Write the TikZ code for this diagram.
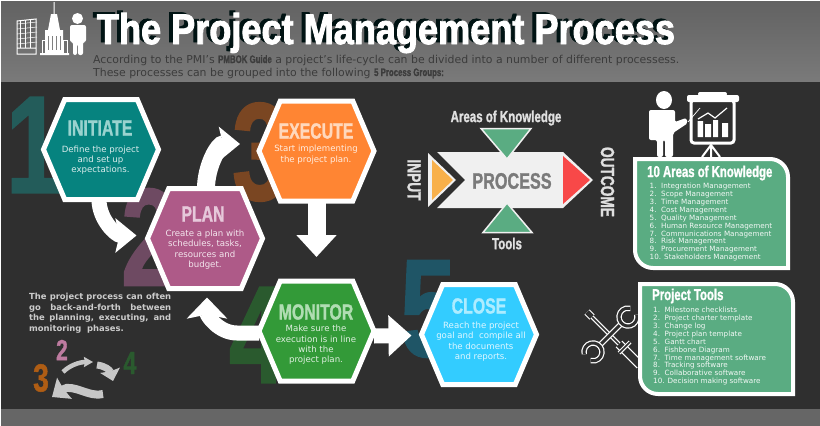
\documentclass[tikz,border=0pt]{standalone}
\usepackage{fontspec}
\usepackage{xcolor}
\setmainfont{DejaVu Sans}
\newfontfamily\impactfont[FakeStretch=0.72,FakeBold=1.2]{Liberation Sans}
\newfontfamily\titlefont[FakeStretch=0.84,FakeBold=2]{Liberation Sans}
\usetikzlibrary{arrows.meta,shapes.symbols}
\definecolor{boardbg}{HTML}{2F2F2F}
\definecolor{bandlo}{HTML}{7A7A7A}
\definecolor{bandhi}{HTML}{626262}
\definecolor{footbg}{HTML}{666666}
\definecolor{introcol}{HTML}{3C3C3C}
\definecolor{initcol}{HTML}{06837F}
\definecolor{initlite}{HTML}{9AD3CF}
\definecolor{execcol}{HTML}{FF8533}
\definecolor{execlite}{HTML}{FFD8BC}
\definecolor{plancol}{HTML}{AE5A88}
\definecolor{planlite}{HTML}{E6C8DA}
\definecolor{moncol}{HTML}{339A38}
\definecolor{monlite}{HTML}{B0DDB2}
\definecolor{closecol}{HTML}{33CCFF}
\definecolor{closelite}{HTML}{ADECFF}
\definecolor{panelcol}{HTML}{5AAC82}
\definecolor{inputcol}{HTML}{F8B04A}
\definecolor{outcol}{HTML}{F84848}
\definecolor{bignone}{HTML}{235C5A}
\definecolor{bigtwo}{HTML}{6E4A62}
\definecolor{bigthree}{HTML}{7A4622}
\definecolor{bigfour}{HTML}{2A5A2E}
\definecolor{bigfive}{HTML}{1F5566}
\newcommand{\pitem}[2]{\makebox[11.5pt][l]{#1}#2}
\newcommand{\fullline}[1]{\makebox[142pt][s]{#1}}
\begin{document}
\begin{tikzpicture}[x=1pt,y=-1pt,
  hexbox/.style={signal,signal to=west and east,signal pointer angle=134,draw=white,line width=5pt,
    minimum width=115pt,minimum height=100pt,inner sep=0pt,outer sep=0pt},
  hexhead/.style={font=\impactfont\bfseries\fontsize{22}{24}\selectfont,inner sep=0pt},
  hexbody/.style={font=\fontsize{8.6}{10.3}\selectfont,align=center,inner sep=0pt},
  bignum/.style={font=\impactfont\bfseries\fontsize{139}{139}\selectfont,inner sep=0pt},
  smallnum/.style={font=\impactfont\bfseries,inner sep=0pt},
  flow/.style={draw=white,line width=15pt,-{Stealth[length=21pt,width=34pt,inset=4pt]}},
  panelbox/.style={draw=white,line width=4pt,fill=panelcol},
  panelhead/.style={font=\impactfont\bfseries\fontsize{15.8}{17}\selectfont,text=white,inner sep=0pt,anchor=west},
  panellist/.style={font=\fontsize{7.2}{7.9}\selectfont,text=white!92!panelcol,align=left,inner sep=0pt,anchor=north west},
  sidelabel/.style={font=\impactfont\bfseries\fontsize{16}{18}\selectfont,text=white!88!black,inner sep=0pt},
  tool/.style={draw=white,line width=1.2pt,double=boardbg},
  cyclearrow/.style={draw=white!78!black}]
  \useasboundingbox (0,0) rectangle (820,426);
  \fill[white] (0,0) rectangle (820,426);
  \shade[top color=bandhi,bottom color=bandlo] (1,1) rectangle (820,82);
  \fill[boardbg] (1,82) rectangle (820,409);
  \fill[footbg] (1,409) rectangle (820,426);

  \foreach \gx in {20,25,30}{\draw[white,line width=.5pt] (\gx,20) -- (\gx,48);}
  \foreach \gy in {24,29,34,39,44}{\draw[white,line width=.5pt] (17,\gy) -- (37,\gy-2);}
  \draw[white,line width=1pt] (17,21) -- (36,19) -- (36,54) -- (17,54) -- cycle (17,48) -- (36,48);
  \fill[white] (53.5,2) rectangle (54.5,14) (51,14) -- (57,14) -- (60,30) -- (48,30) -- cycle;
  \fill[white] (45,30) rectangle (63,53) (40,53) rectangle (69,55);
  \foreach \gx in {48,52,56,60}{\draw[gray,line width=.7pt] (\gx,36) -- (\gx,50);}
  \draw[white,line width=1pt] (42,40) rectangle (45,53) (63,40) rectangle (67,53);
  \fill[white] (77.5,18.5) circle (5.5);
  \fill[white,rounded corners=2pt] (70,25) -- (86,25) -- (86,42) -- (83,42) -- (83,55) -- (78,55) -- (78,44) -- (77,44) -- (77,55) -- (73,55) -- (73,42) -- (70,42) -- cycle;

  \node[font=\titlefont\bfseries\fontsize{43}{45}\selectfont,text=black!85!teal,inner sep=0pt] (titleshadow) at (382,31) {The Project Management Process};
  \node[font=\titlefont\bfseries\fontsize{43}{45}\selectfont,text=white,inner sep=0pt] (title) at (386,33) {The Project Management Process};
  \node[font=\fontsize{10.9}{13}\selectfont,text=introcol,anchor=west,inner sep=0pt] (introa) at (93,60) {According to the PMI's {\impactfont\bfseries PMBOK Guide} a project's life-cycle can be divided into a number of different processess.};
  \node[font=\fontsize{10.9}{13}\selectfont,text=introcol,anchor=west,inner sep=0pt] (introb) at (93,73) {These processes can be grouped into the following {\impactfont\bfseries 5 Process Groups:}};

  \node[bignum,text=bignone] (numa) at (34,145) {1};
  \node[bignum,text=bigtwo] (numb) at (149,237) {2};
  \node[bignum,text=bigthree] (numc) at (260,152) {3};
  \node[bignum,text=bigfour] (numd) at (257,335) {4};
  \node[bignum,text=bigfive] (nume) at (428,309) {5};

  \node[hexbox,fill=initcol] (initiate) at (101,149.5) {};
  \node[hexbox,fill=execcol] (execute) at (316.5,151) {};
  \node[hexbox,fill=plancol] (plan) at (205,238.5) {};
  \node[hexbox,fill=moncol] (monitor) at (316.5,331) {};
  \node[hexbox,fill=closecol] (close) at (479,334.5) {};

  \draw[flow] ([xshift=-2pt]initiate.south) to[out=-90,in=180] ([shift={(-11pt,3pt)}]plan.west);
  \draw[flow,line width=18pt] ([xshift=1pt]plan.north) to[out=90,in=180] ([shift={(-19pt,7pt)}]execute.west);
  \draw[flow,line width=18pt,-{Triangle[length=22pt,width=39pt]}] (execute.south) -- ([yshift=24pt]monitor.north);
  \draw[flow,-{Stealth[length=21pt,width=40pt,inset=4pt]}] ([yshift=-2pt]monitor.west) -- ++(-22,0) to[out=180,in=-90] ([shift={(2pt,-9pt)}]plan.south);
  \draw[flow,-{Stealth[length=23pt,width=40pt,inset=0pt]}] ([yshift=-5pt]monitor.east) -- ([shift={(-10pt,-1pt)}]close.west);

  \node[hexhead,text=initlite] (inithead) at (100,128) {INITIATE};
  \node[hexbody,text=white!85!initcol] (initbody) at (100.5,160) {Define the project\\and set up\\expectations.};
  \node[hexhead,text=execlite] (exechead) at (316,131) {EXECUTE};
  \node[hexbody,text=white!85!execcol] (execbody) at (316,154.5) {Start implementing\\the project plan.};
  \node[hexhead,text=planlite] (planhead) at (203,214) {PLAN};
  \node[hexbody,text=white!85!plancol] (planbody) at (205,249.5) {Create a plan with\\schedules, tasks,\\resources and\\budget.};
  \node[hexhead,text=monlite] (monhead) at (316,312) {MONITOR};
  \node[hexbody,text=white!85!moncol] (monbody) at (316,345) {Make sure the\\execution is in line\\with the\\project plan.};
  \node[hexhead,text=closelite] (closehead) at (479,306) {CLOSE};
  \node[hexbody,text=white!85!closecol] (closebody) at (481,341.5) {Reach the project\\goal and\ \ compile all\\the documents\\and reports.};

  \fill[white!94!black] (437,152) -- (563,152) -- (593,180) -- (563,208) -- (437,208) -- (465,180) -- cycle;
  \fill[white!94!black] (428,153) -- (456,180) -- (428,207) -- cycle;
  \fill[inputcol] (432,160) -- (453,180) -- (432,200) -- cycle;
  \fill[outcol] (563,156) -- (590,180) -- (563,204) -- cycle;
  \draw[white!94!black,line width=1.5pt,fill=panelcol] (481,128.5) -- (531,128.5) -- (507,159) -- cycle;
  \draw[white!94!black,line width=1.5pt,fill=panelcol] (483,232.5) -- (532,232.5) -- (507,203) -- cycle;
  \node[font=\impactfont\bfseries\fontsize{22.5}{25}\selectfont,text=black!52,inner sep=0pt] (process) at (512,181) {PROCESS};
  \node[sidelabel] (areas) at (506,118) {Areas of Knowledge};
  \node[sidelabel] (tools) at (507,243.5) {Tools};
  \node[sidelabel,font=\impactfont\bfseries\fontsize{19}{21}\selectfont,rotate=-90] (input) at (414,180) {INPUT};
  \node[sidelabel,font=\impactfont\bfseries\fontsize{19}{21}\selectfont,rotate=-90] (outcome) at (607.5,182) {OUTCOME};

  \fill[white] (664,100) ellipse (8 and 9);
  \fill[white,rounded corners=2pt] (649,110) -- (675,110) -- (675,122) -- (686,118) -- (688,123) -- (673,133) -- (673,157) -- (665,157) -- (665,140) -- (663,140) -- (663,157) -- (657,157) -- (657,140) -- (649,140) -- cycle;
  \draw[white,line width=.7pt] (688,122) -- (700,108);
  \draw[white,line width=3pt,rounded corners=3pt] (691,100) rectangle (734,143);
  \fill[white,rounded corners=2pt] (687,95) rectangle (739,102);
  \fill[white,rounded corners=2pt] (698,92) rectangle (727,96);
  \fill[white] (697.5,121) rectangle (703,137) (705,124) rectangle (711,137) (713,120) rectangle (718,137) (722,123) rectangle (728,137);
  \draw[white,line width=1.2pt] (698,119) -- (708,113) -- (715,118) -- (727,108);
  \draw[white,line width=2pt] (702,157) -- (711,145) -- (720,157) (711,145) -- (711,157);

  \draw[panelbox] (635,159) [rounded corners=18pt] -- (788,159) [sharp corners] -- (788,268) [rounded corners=18pt] -- (635,268) [sharp corners] -- cycle;
  \node[panelhead] (areashead) at (647,173) {10 Areas of Knowledge};
  \node[panellist] (areaslist) at (649.5,183) {\pitem{1.}{Integration Management}\\\pitem{2.}{Scope Management}\\\pitem{3.}{Time Management}\\\pitem{4.}{Cost Management}\\\pitem{5.}{Quality Management}\\\pitem{6.}{Human Resource Management}\\\pitem{7.}{Communications Management}\\\pitem{8.}{Risk Management}\\\pitem{9.}{Procurement Management}\\10. Stakeholders Management};

  \draw[tool,double distance=5pt] (587,312) -- (592,317);
  \draw[tool,double distance=1.5pt] (592,317) -- (619,344);
  \draw[tool,double distance=7pt] (619,344) -- (640,365);
  \draw[tool,double distance=1.5pt] (619,353) -- (630,342);
  \draw[tool,double distance=3pt] (599,346) -- (622,323);
  \draw[tool,double distance=3pt] (636.7,314.7) arc[start angle=-15,end angle=285,radius=9];
  \draw[tool,double distance=3pt] (584.3,354.3) arc[start angle=165,end angle=465,radius=9];

  \draw[panelbox] (640,284) [rounded corners=18pt] -- (793,284) [sharp corners] -- (793,394) [rounded corners=18pt] -- (640,394) [sharp corners] -- cycle;
  \node[panelhead] (toolshead) at (652,296) {Project Tools};
  \node[panellist] (toolslist) at (653,307) {\pitem{1.}{Milestone checklists}\\\pitem{2.}{Project charter template}\\\pitem{3.}{Change log}\\\pitem{4.}{Project plan template}\\\pitem{5.}{Gantt chart}\\\pitem{6.}{Fishbone Diagram}\\\pitem{7.}{Time management software}\\\pitem{8.}{Tracking software}\\\pitem{9.}{Collaborative software}\\10. Decision making software};

  \node[font=\bfseries\fontsize{8.4}{10.7}\selectfont,text=white!80!black,align=left,inner sep=0pt,anchor=north west] (note) at (29,293) {\fullline{The project process can often}\\\fullline{go back-and-forth between}\\\fullline{the planning, executing, and}\\monitoring\ \ phases.};
  \node[smallnum,font=\impactfont\bfseries\fontsize{29}{30}\selectfont,text=plancol!80!white] (minib) at (62,350) {2};
  \node[smallnum,font=\impactfont\bfseries\fontsize{39}{40}\selectfont,text=bigthree!60!orange] (minic) at (41,378) {3};
  \node[smallnum,font=\impactfont\bfseries\fontsize{32}{34}\selectfont,text=bigfour] (minid) at (130,363) {4};
  \draw[cyclearrow,line width=4.5pt,-{Stealth[length=9pt,width=10pt,inset=1pt]}] (63,372) .. controls (70,365) and (80,362) .. (93,362);
  \draw[cyclearrow,line width=7pt,-{Stealth[length=11pt,width=20pt,inset=1pt]}] (97,365) .. controls (105,366) and (110,370) .. (113,381);
  \draw[cyclearrow,line width=8pt,-{Stealth[length=15pt,width=25pt,inset=1pt]}] (103,394) .. controls (90,398) and (72,383) .. (52,397);
\end{tikzpicture}
\end{document}
